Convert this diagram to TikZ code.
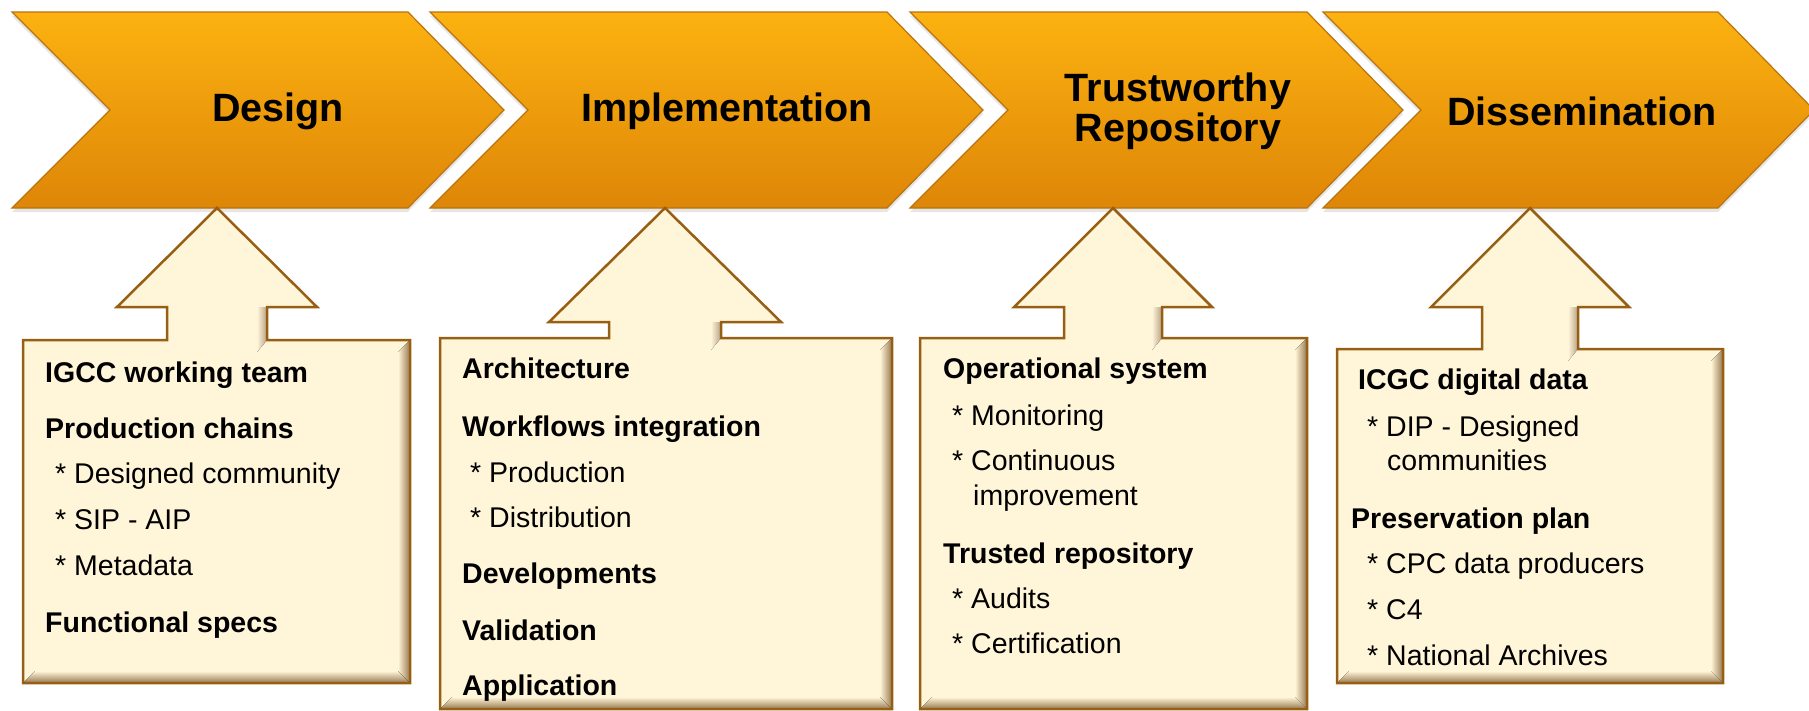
\documentclass[tikz,border=0pt]{standalone}
\usepackage{fontspec}
\setmainfont{Liberation Sans}
\usetikzlibrary{shadows}

\definecolor{chevtop}{RGB}{252,178,16}
\definecolor{chevbot}{RGB}{222,134,8}
\definecolor{chevedge}{RGB}{185,115,15}
\definecolor{boxfill}{RGB}{255,245,216}
\definecolor{boxedge}{RGB}{150,95,20}
\definecolor{boxshade}{RGB}{150,120,80}

\tikzset{
    chevron/.style={top color=chevtop, bottom color=chevbot, draw=chevedge, line width=1.2pt,
        drop shadow={shadow xshift=0pt, shadow yshift=-4pt, opacity=0.2}},
    phase/.style={font=\fontsize{39.5}{40}\selectfont\bfseries, align=center, inner sep=0pt},
    panel/.style={draw=boxedge, line width=2.5pt, line join=miter},
    head/.style={anchor=base west, inner sep=0pt, font=\fontsize{28.5}{34}\selectfont\bfseries},
    item/.style={anchor=base west, inner sep=0pt, font=\fontsize{28.5}{34}\selectfont}
}

\begin{document}
\begin{tikzpicture}[x=1pt, y=-1pt]
    \useasboundingbox (0,0) rectangle (1809,710);

    % Phase chevrons
    \foreach \l/\r in {12/408, 430/887, 910/1307, 1323/1718} {
        \draw[chevron] (\l,12) -- (\r,12) -- (\r+96,110) -- (\r,208) -- (\l,208) -- (\l+98,110) -- cycle;
    }
    \node[phase] (design) at (278,111) {Design};
    \node[phase] (impl) at (727,111) {Implementation};
    \node[phase] (trust) at (1178,111) {Trustworthy\\Repository};
    \node[phase] (diss) at (1582,111) {Dissemination};

    % Panels with up arrows
    \foreach \bl/\br/\bt/\bb/\cx/\hw/\sw/\hb in {23/410/340/683/217/100/50/307,
                      440/892/338/709/665/116/56/322, 920/1307/338/709/1113/99/49/307,
                      1337/1723/349/683/1530/99/48/307} {
        \fill[boxfill] (\bl,\bb) -- (\bl,\bt) -- (\cx-\sw,\bt) -- (\cx-\sw,\hb) -- (\cx-\hw,\hb) -- (\cx,208)
            -- (\cx+\hw,\hb) -- (\cx+\sw,\hb) -- (\cx+\sw,\bt) -- (\br,\bt) -- (\br,\bb) -- cycle;
        \fill[left color=boxfill, right color=boxshade] (\br-12,\bt+12) -- (\br,\bt) -- (\br,\bb) -- (\br-12,\bb-12) -- cycle;
        \fill[top color=boxfill, bottom color=boxshade] (\bl,\bb) -- (\br,\bb) -- (\br-12,\bb-12) -- (\bl+12,\bb-12) -- cycle;
        \fill[left color=boxfill, right color=boxshade!70] (\cx+\sw-10,\hb) -- (\cx+\sw,\hb) -- (\cx+\sw,\bt) -- (\cx+\sw-10,\bt+12) -- cycle;
        \draw[panel] (\bl,\bb) -- (\bl,\bt) -- (\cx-\sw,\bt) -- (\cx-\sw,\hb) -- (\cx-\hw,\hb) -- (\cx,208)
            -- (\cx+\hw,\hb) -- (\cx+\sw,\hb) -- (\cx+\sw,\bt) -- (\br,\bt) -- (\br,\bb) -- cycle;
    }

    % Design panel
    \node[head] (igcc) at (45,382) {IGCC working team};
    \node[head] (chains) at (45,438) {Production chains};
    \node[item] (community) at (55,483) {* Designed community};
    \node[item] (sipaip) at (55,529) {* SIP - AIP};
    \node[item] (metadata) at (55,575) {* Metadata};
    \node[head] (specs) at (45,632) {Functional specs};

    % Implementation panel
    \node[head] (archi) at (462,378) {Architecture};
    \node[head] (workflows) at (462,436) {Workflows integration};
    \node[item] (production) at (470,482) {* Production};
    \node[item] (distribution) at (470,527) {* Distribution};
    \node[head] (devel) at (462,583) {Developments};
    \node[head] (valid) at (462,640) {Validation};
    \node[head] (appli) at (462,695) {Application};

    % Trustworthy repository panel
    \node[head] (opsys) at (943,378) {Operational system};
    \node[item] (monitor) at (952,425) {* Monitoring};
    \node[item] (continuous) at (952,470) {* Continuous};
    \node[item] (improve) at (973,505) {improvement};
    \node[head] (trusted) at (943,563) {Trusted repository};
    \node[item] (audits) at (952,608) {* Audits};
    \node[item] (certif) at (952,653) {* Certification};

    % Dissemination panel
    \node[head] (icgc) at (1358,389) {ICGC digital data};
    \node[item] (dip) at (1367,436) {* DIP - Designed};
    \node[item] (communities) at (1387,470) {communities};
    \node[head] (preserv) at (1351,528) {Preservation plan};
    \node[item] (cpc) at (1367,573) {* CPC data producers};
    \node[item] (cfour) at (1367,619) {* C4};
    \node[item] (archives) at (1367,665) {* National Archives};
\end{tikzpicture}
\end{document}
